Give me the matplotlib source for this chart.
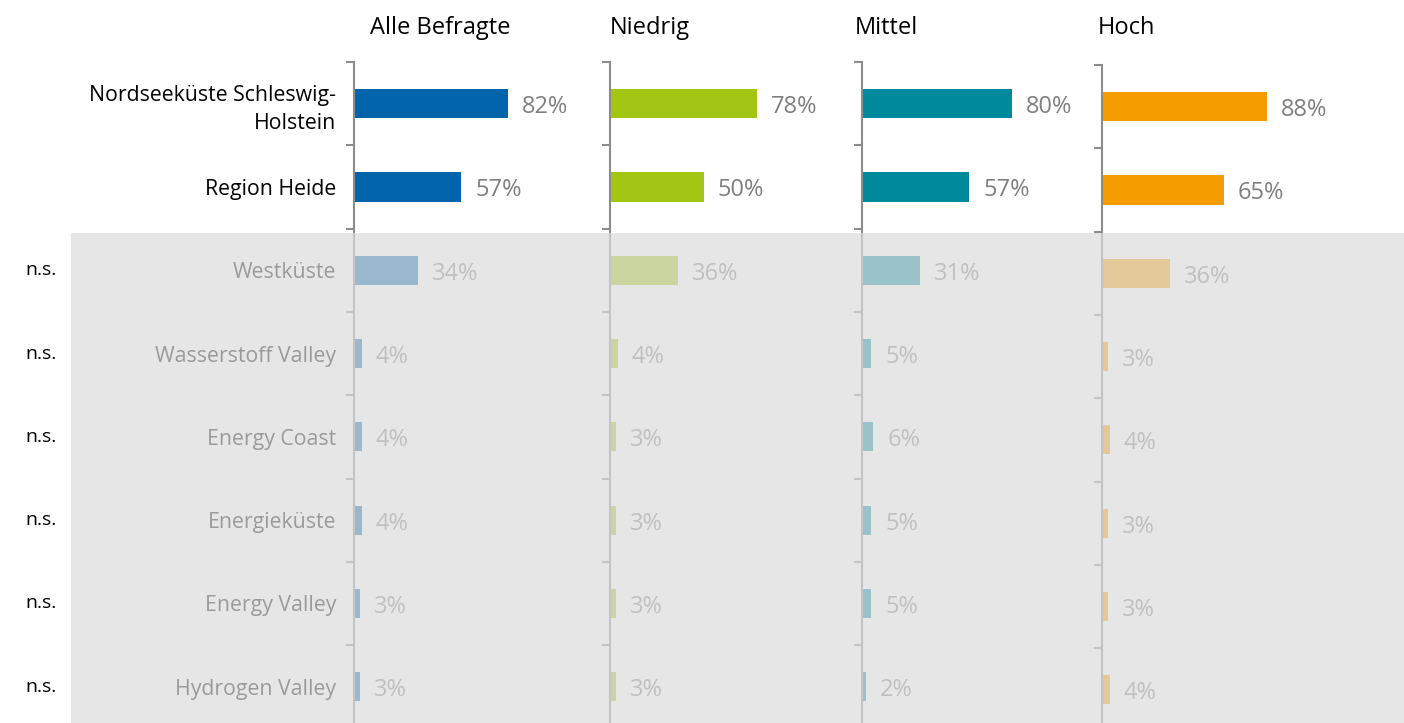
import matplotlib
matplotlib.use("Agg")
import matplotlib.pyplot as plt
from matplotlib.patches import Rectangle

plt.rcParams['font.family'] = ['Open Sans', 'DejaVu Sans']

categories = ["Nordseeküste Schleswig-\nHolstein", "Region Heide", "Westküste",
              "Wasserstoff Valley", "Energy Coast", "Energieküste",
              "Energy Valley", "Hydrogen Valley"]
groups = ["Alle Befragte", "Niedrig", "Mittel", "Hoch"]
values = {
    "Alle Befragte": [82, 57, 34, 4, 4, 4, 3, 3],
    "Niedrig":       [78, 50, 36, 4, 3, 3, 3, 3],
    "Mittel":        [80, 57, 31, 5, 6, 5, 5, 2],
    "Hoch":          [88, 65, 36, 3, 4, 3, 3, 4],
}
significance = ["", "", "n.s.", "n.s.", "n.s.", "n.s.", "n.s.", "n.s."]
colors = ["#0064aa", "#a3c614", "#00899d", "#f59c00"]

W, H = 1404, 723
fig = plt.figure(figsize=(W / 100, H / 100), dpi=100)

axis_x = [354, 610, 862, 1102]
header_x = [370, 610, 855, 1098]
y_shift = [0, 0, 0, 3]
px_per_unit = 1.88
panel_w = 240
row_h = 83.3
n = len(categories)

for i, g in enumerate(groups):
    top = 62 + y_shift[i]
    bottom = top + row_h * n
    ax = fig.add_axes([axis_x[i] / W, 1 - bottom / H, panel_w / W, (bottom - top) / H])
    ax.set_xlim(0, panel_w / px_per_unit)
    ax.set_ylim(n, 0)
    ys = [k + 0.5 for k in range(n)]
    ax.barh(ys, values[g], height=0.35, color=colors[i], edgecolor='none')
    for y, v in zip(ys, values[g]):
        ax.annotate(f"{v}%", (v, y), xytext=(10, -2.5), textcoords='offset points',
                    va='center', ha='left', fontsize=17, color='#7f7f7f')
    for s in ['top', 'right', 'bottom']:
        ax.spines[s].set_visible(False)
    ax.spines['left'].set_color('#8c8c8c')
    ax.spines['left'].set_linewidth(1.5)
    ax.set_xticks([])
    ax.set_yticks(range(n + 1))
    ax.set_yticklabels([])
    ax.tick_params(axis='y', which='major', length=6, width=1.5, color='#8c8c8c', direction='out')
    ax.patch.set_alpha(0)
    if i == 0:
        ax.set_yticks(ys, minor=True)
        ax.set_yticklabels(categories, minor=True, fontsize=15.3, color='black',
                           ha='right', multialignment='right', linespacing=1.45)
        ax.tick_params(axis='y', which='minor', length=0, pad=13)
    fig.text(header_x[i] / W, 1 - 28 / H, g, fontsize=17,
             ha='left', va='center', color='black')

for k, s in enumerate(significance):
    if s:
        fig.text(25 / W, 1 - (62 + row_h * (k + 0.5)) / H, s, fontsize=14,
                 ha='left', va='center', color='black')

overlay = Rectangle((71 / W, 0), 1 - 71 / W, (H - 233) / H, transform=fig.transFigure,
                    facecolor='#dcdcdc', edgecolor='none', alpha=0.70, zorder=10)
fig.add_artist(overlay)

fig.savefig("out.png", dpi=100)
